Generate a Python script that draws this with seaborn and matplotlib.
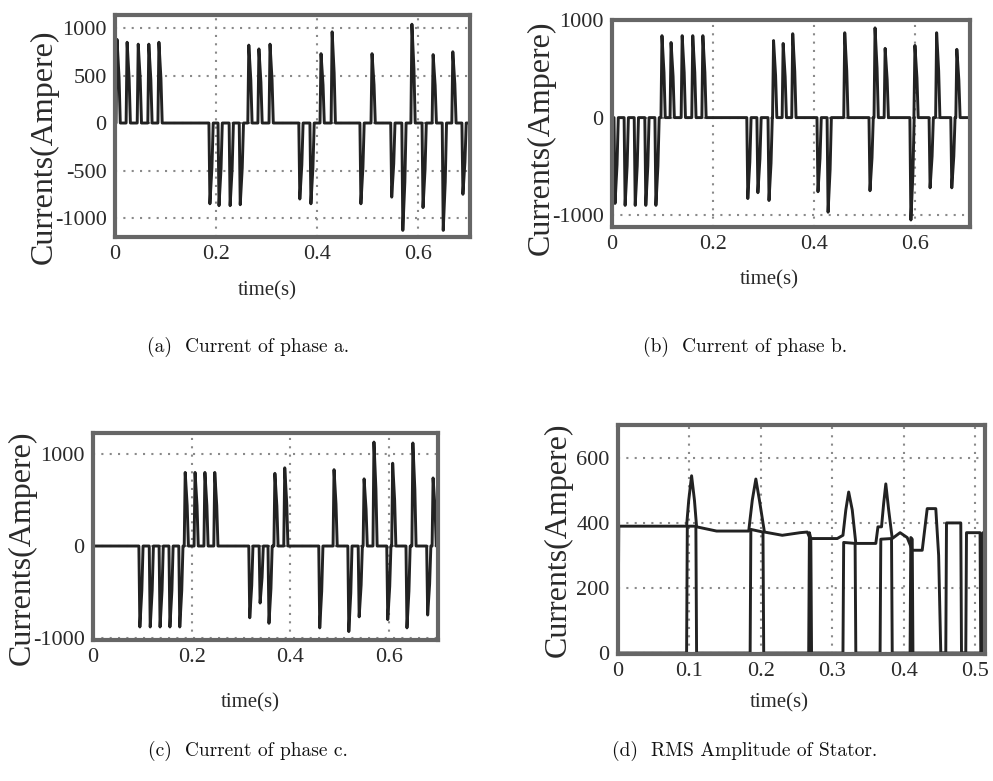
# stator phase currents + RMS amplitude, 2x2 panels
import matplotlib
matplotlib.use('Agg')
import matplotlib.pyplot as plt
import pandas as pd
import seaborn as sns

# phase a: pulse peak times (s) and peak currents (A)
a_peak_t = [0.004, 0.024, 0.046, 0.067, 0.087, 0.188, 0.206, 0.228, 0.248,
            0.265, 0.285, 0.307, 0.366, 0.388, 0.408, 0.430, 0.487, 0.509,
            0.548, 0.570, 0.588, 0.610, 0.630, 0.650, 0.669, 0.689]
a_peak_i = [880, 850, 830, 830, 850, -850, -870, -870, -860,
            820, 780, 830, -800, -850, 730, 960, -850, 730,
            -780, -1130, 1040, -890, 720, -1130, 750, -750]

# phase b
b_peak_t = [0.006, 0.026, 0.046, 0.067, 0.087, 0.099, 0.117, 0.139, 0.160,
            0.180, 0.269, 0.289, 0.311, 0.320, 0.339, 0.358, 0.408, 0.428,
            0.461, 0.511, 0.521, 0.541, 0.592, 0.600, 0.630, 0.643, 0.673, 0.683]
b_peak_i = [-880, -900, -900, -900, -900, 840, 770, 840, 840,
            840, -830, -770, -850, 790, 760, 860, -760, -970,
            870, -750, 920, 710, -1050, 740, -720, 870, -720, 700]

# phase c
c_peak_t = [0.095, 0.116, 0.136, 0.156, 0.176, 0.187, 0.207, 0.227, 0.247,
            0.318, 0.339, 0.357, 0.369, 0.389, 0.460, 0.489, 0.519, 0.540,
            0.550, 0.570, 0.598, 0.608, 0.637, 0.649, 0.679, 0.690]
c_peak_i = [-880, -880, -880, -880, -880, 800, 800, 800, 800,
            -780, -620, -840, 790, 850, -890, 830, -930, -770,
            730, 1130, -800, 900, -890, 1120, -750, 740]

# RMS amplitude of stator, main trace (breakpoints)
d_main_t = [0.000, 0.001, 0.004, 0.096, 0.099, 0.103, 0.107, 0.110, 0.138, 0.183,
            0.188, 0.193, 0.198, 0.205, 0.230, 0.255, 0.265, 0.269, 0.274, 0.307,
            0.315, 0.319, 0.323, 0.328, 0.333, 0.361, 0.364, 0.369, 0.372, 0.375,
            0.379, 0.384, 0.395, 0.405, 0.412, 0.426, 0.433, 0.445, 0.449, 0.452,
            0.459, 0.460, 0.480, 0.481, 0.487, 0.488, 0.507, 0.508, 0.510, 0.511]
d_main_i = [0, 390, 390, 390, 470, 545, 470, 388, 375, 375,
            470, 535, 470, 372, 362, 370, 372, 352, 352, 352,
            362, 440, 495, 440, 337, 337, 388, 388, 460, 520,
            440, 352, 370, 355, 316, 316, 444, 444, 300, 0,
            0, 400, 400, 0, 0, 370, 370, 0, 0, 370]

# RMS amplitude, second trace (drops to zero between bursts)
d_aux_t = [0.000, 0.096, 0.097, 0.109, 0.110, 0.185, 0.186, 0.203, 0.204,
           0.267, 0.268, 0.270, 0.271, 0.315, 0.316, 0.332, 0.333, 0.367,
           0.368, 0.383, 0.384, 0.409, 0.410, 0.412, 0.413, 0.510]
d_aux_i = [0, 0, 390, 390, 0, 0, 380, 372, 0,
           0, 370, 352, 0, 0, 340, 337, 0, 0,
           350, 352, 0, 0, 355, 350, 0, 0]

captions = ['(a)  Current of phase a.', '(b)  Current of phase b.',
            '(c)  Current of phase c.', '(d)  RMS Amplitude of Stator.']


def pulse_trace(peak_t, peak_i, t_end):
    """turn pulse peaks into a zero-based spike waveform"""
    t, i = [0.0], [0.0]
    for tp, a in zip(peak_t, peak_i):
        t += [tp - 0.002, tp, tp + 0.004, tp + 0.0065]
        i += [0, a, 0.55 * a, 0]
    t.append(t_end)
    i.append(0)
    return pd.DataFrame({'time': t, 'current': i})


def style_axes(ax, xticks, xlabels, yticks, ylabels, xlim, ylim,
               ylab_xy, xlab_xy):
    ax.set_xlim(*xlim)
    ax.set_ylim(*ylim)
    ax.set_xticks(xticks)
    ax.set_xticklabels(xlabels)
    ax.set_yticks(yticks)
    ax.set_yticklabels(ylabels)
    ax.grid(True, color='#8a8a8a', linestyle=(0, (1, 3)), linewidth=1.5)
    ax.tick_params(length=0, labelsize=16, pad=6, colors='#2a2a2a')
    for sp in ax.spines.values():
        sp.set_color('#666666')
        sp.set_linewidth(3)
    ax.set_xlabel('time(s)', fontsize=15, color='#2a2a2a', va='center')
    ax.xaxis.set_label_coords(*xlab_xy)
    ax.set_ylabel('Currents(Ampere)', fontsize=23, color='#2a2a2a', va='center')
    ax.yaxis.set_label_coords(*ylab_xy)


if __name__ == '__main__':
    sns.set_theme(style='white')
    plt.rcParams['font.family'] = ['Liberation Serif', 'DejaVu Serif']

    fig = plt.figure(figsize=(9.93, 7.81), dpi=100)
    ax_a = fig.add_axes([0.1158, 0.6965, 0.3575, 0.2843])
    ax_b = fig.add_axes([0.6163, 0.7093, 0.3605, 0.2650])
    ax_c = fig.add_axes([0.0937, 0.1805, 0.3474, 0.2650])
    ax_d = fig.add_axes([0.6224, 0.1626, 0.3696, 0.2932])

    line_kw = dict(sort=False, estimator=None, color='#222222', linewidth=2.1)

    t_ticks = [0, 0.2, 0.4, 0.6]
    t_labels = ['0', '0.2', '0.4', '0.6']

    sns.lineplot(data=pulse_trace(a_peak_t, a_peak_i, 0.71), x='time', y='current', ax=ax_a, **line_kw)
    style_axes(ax_a, t_ticks, t_labels, [-1000, -500, 0, 500, 1000],
               ['-1000', '-500', '0', '500', '1000'], (0, 0.703), (-1200, 1137),
               (-0.20, 0.405), (0.43, -0.243))

    sns.lineplot(data=pulse_trace(b_peak_t, b_peak_i, 0.71), x='time', y='current', ax=ax_b, **line_kw)
    style_axes(ax_b, t_ticks, t_labels, [-1000, 0, 1000], ['-1000', '0', '1000'],
               (0, 0.709), (-1122, 1000), (-0.198, 0.43), (0.439, -0.256))

    sns.lineplot(data=pulse_trace(c_peak_t, c_peak_i, 0.71), x='time', y='current', ax=ax_c, **line_kw)
    style_axes(ax_c, t_ticks, t_labels, [-1000, 0, 1000], ['-1000', '0', '1000'],
               (0, 0.70), (-1022, 1228), (-0.206, 0.444), (0.455, -0.304))

    sns.lineplot(x=d_aux_t, y=d_aux_i, ax=ax_d, **line_kw)
    sns.lineplot(x=d_main_t, y=d_main_i, ax=ax_d, **line_kw)
    style_axes(ax_d, [0, 0.1, 0.2, 0.3, 0.4, 0.5], ['0', '0.1', '0.2', '0.3', '0.4', '0.5'],
               [0, 200, 400, 600], ['0', '200', '400', '600'],
               (0, 0.514), (-3, 701), (-0.163, 0.498), (0.44, -0.214))

    # sub-figure captions
    cap_pos = [(248, 347), (745, 347), (248, 751), (745, 751)]
    for text, (px, py) in zip(captions, cap_pos):
        fig.text(px / 993, 1 - py / 781, text, ha='center', va='center',
                 fontsize=14, family=['cmr10', 'DejaVu Serif'], color='#111111')

    fig.savefig('out.png', dpi=100, facecolor='white')
